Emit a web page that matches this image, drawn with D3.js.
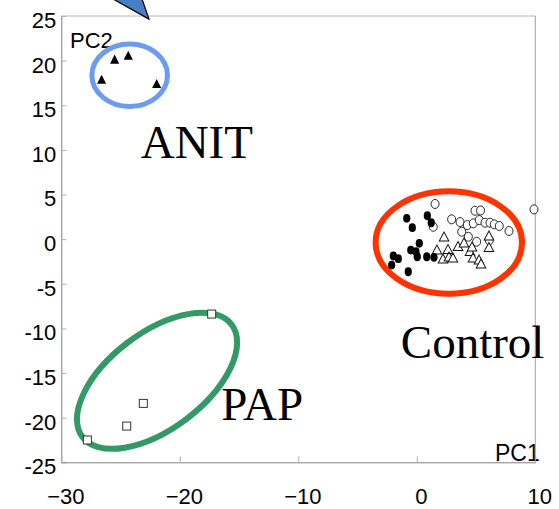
<!DOCTYPE html>
<html>
<head>
<meta charset="utf-8">
<script src="https://cdn.jsdelivr.net/npm/d3@7"></script>
<style>
  html, body { margin: 0; padding: 0; background: #fff; }
  svg { display: block; }
</style>
</head>
<body>
<svg id="chart" width="559" height="509"></svg>
<script>
// ---- data (PC1, PC2) ----
const xTicks = [-30, -20, -10, 0, 10];
const yTicks = [-25, -20, -15, -10, -5, 0, 5, 10, 15, 20, 25];

const anit = [[-26.6, 17.75], [-25.5, 20.0], [-24.35, 20.44], [-21.95, 17.27]];
const pap = [[-17.31, -8.39], [-23.08, -18.4], [-24.48, -20.94], [-27.8, -22.5]];
const controlFilled = [
  [-0.85, 2.33], [-0.38, 1.28], [0.89, 2.62], [1.22, 1.84], [0.21, -0.47],
  [-0.51, -1.22], [-0.07, -1.41], [0.04, -1.97], [0.84, -1.97], [1.45, -2.04],
  [-1.98, -1.89], [-1.56, -2.19], [-2.12, -2.9], [-0.72, -3.65]
];
const controlOpen = [
  [1.54, 3.94], [1.39, 1.39], [2.94, 2.22], [3.65, 1.92], [4.91, 3.18],
  [5.38, 3.21], [4.26, 1.58], [4.77, 1.77], [5.27, 2.14], [5.76, 1.84],
  [6.18, 1.84], [6.54, 1.66], [6.96, 1.47], [7.78, 0.91], [3.79, 0.83],
  [4.35, 0.27], [5.05, -0.29], [6.12, -0.13], [9.89, 3.34]
];
const controlTri = [
  [2.30, 0.13], [1.70, -1.33], [2.21, -2.34], [2.63, -1.27], [2.72, -2.11],
  [3.05, -2.23], [3.48, -0.94], [3.98, -0.55], [4.49, -1.5], [4.66, -1.0],
  [4.74, -2.23], [5.25, -2.45], [5.42, -2.9], [6.09, 0.24], [6.09, -1.05]
];

const groupLabels = [
  { text: "ANIT", x: -23.3, y: 9.1 },
  { text: "Control", x: -1.35, y: -13.3 },
  { text: "PAP", x: -16.5, y: -20.25 }
];

// ---- layout ----
const svg = d3.select("#chart");
const mLeft = 61.3, mRight = 535.3, mTop = 16, mBottom = 462.3;

const x = d3.scaleLinear().domain([-30, 10]).range([mLeft, mRight]);
const y = d3.scaleLinear().domain([-25, 25]).range([mBottom, mTop]);

const FONT = "'Liberation Sans', Arial, Helvetica, sans-serif";
const SERIF = "'Liberation Serif', 'Times New Roman', serif";

// frame (top light)
svg.append("line").attr("x1", mLeft).attr("x2", mRight).attr("y1", mTop).attr("y2", mTop)
  .attr("stroke", "#b8b8b8").attr("stroke-width", 1);

// axes
const yAxis = d3.axisLeft(y).tickValues(yTicks).tickSizeInner(-5).tickSizeOuter(0)
  .tickPadding(5).tickFormat(d => String(d));
const gy = svg.append("g").attr("transform", `translate(${mLeft},0)`).call(yAxis);
gy.select(".domain").attr("stroke", "#808080");
gy.selectAll(".tick line").attr("stroke", "#b0b0b0");
gy.selectAll(".tick text").attr("font-family", FONT).attr("font-size", 22)
  .attr("fill", "#000").attr("dy", "0.52em");

const xAxis = d3.axisBottom(x).tickValues(xTicks).tickSizeInner(-6).tickSizeOuter(0)
  .tickPadding(26).tickFormat(d3.format("d"));
const gx = svg.append("g").attr("transform", `translate(0,${mBottom})`).call(xAxis);
gx.select(".domain").attr("stroke", "#808080");
gx.selectAll(".tick line").attr("stroke", "#b0b0b0");
gx.selectAll(".tick text").attr("font-family", FONT).attr("font-size", 22)
  .attr("fill", "#000").attr("dx", 4);

// axis names
svg.append("text").attr("x", 70).attr("y", 48).text("PC2")
  .attr("font-family", FONT).attr("font-size", 22).attr("fill", "#000");
svg.append("text").attr("x", 495).attr("y", 461).text("PC1")
  .attr("font-family", FONT).attr("font-size", 23).attr("fill", "#000");

// right frame line (over PC1 text)
svg.append("line").attr("x1", mRight).attr("x2", mRight).attr("y1", mTop).attr("y2", mBottom)
  .attr("stroke", "#a0a0a0").attr("stroke-width", 1);

// pointer arrow fragment at top
svg.append("path")
  .attr("d", `M113,-1 L142,-1 L${x(-22.6)},${y(24.65)} Z`)
  .attr("fill", "#4a7ec4").attr("stroke", "#000").attr("stroke-width", 1.2);

// group labels
svg.selectAll("text.grp").data(groupLabels).join("text").attr("class", "grp")
  .attr("x", d => x(d.x)).attr("y", d => y(d.y)).text(d => d.text)
  .attr("font-family", SERIF).attr("font-size", 47).attr("fill", "#000");

// cluster ellipses
const ellipses = [
  { cx: -24.23, cy: 18.36, rx: 37.8, ry: 31.2, rot: 0, color: "#6b9cf0", w: 5 },
  { cx: 2.70, cy: -0.38, rx: 73.2, ry: 51.2, rot: 0, color: "#ff3300", w: 6 },
  { cx: -21.92, cy: -15.87, rx: 93.4, ry: 48.2, rot: -36.9, color: "#339966", w: 6 }
];
svg.selectAll("ellipse.cl").data(ellipses).join("ellipse").attr("class", "cl")
  .attr("transform", d => `translate(${x(d.cx)},${y(d.cy)}) rotate(${d.rot})`)
  .attr("rx", d => d.rx).attr("ry", d => d.ry)
  .attr("fill", "none").attr("stroke", d => d.color).attr("stroke-width", d => d.w);

// markers
const tri = d3.symbol().type(d3.symbolTriangle).size(36);

svg.selectAll("path.anit").data(anit).join("path").attr("class", "anit")
  .attr("d", tri).attr("transform", d => `translate(${x(d[0])},${y(d[1])}) scale(1,1.15)`)
  .attr("fill", "#000");

svg.selectAll("rect.pap").data(pap).join("rect").attr("class", "pap")
  .attr("x", d => x(d[0]) - 4).attr("y", d => y(d[1]) - 4)
  .attr("width", 8).attr("height", 8)
  .attr("fill", "#fff").attr("stroke", "#333").attr("stroke-width", 1);

svg.selectAll("ellipse.co").data(controlOpen).join("ellipse").attr("class", "co")
  .attr("cx", d => x(d[0])).attr("cy", d => y(d[1])).attr("rx", 4).attr("ry", 4.5)
  .attr("fill", "#fff").attr("stroke", "#111").attr("stroke-width", 0.9);

svg.selectAll("path.ct").data(controlTri).join("path").attr("class", "ct")
  .attr("d", tri).attr("transform", d => `translate(${x(d[0])},${y(d[1])}) scale(1.05,1.15)`)
  .attr("fill", "#fff").attr("stroke", "#111").attr("stroke-width", 0.9);

svg.selectAll("ellipse.cf").data(controlFilled).join("ellipse").attr("class", "cf")
  .attr("cx", d => x(d[0])).attr("cy", d => y(d[1])).attr("rx", 3.6).attr("ry", 4.4)
  .attr("fill", "#000");
</script>
</body>
</html>
